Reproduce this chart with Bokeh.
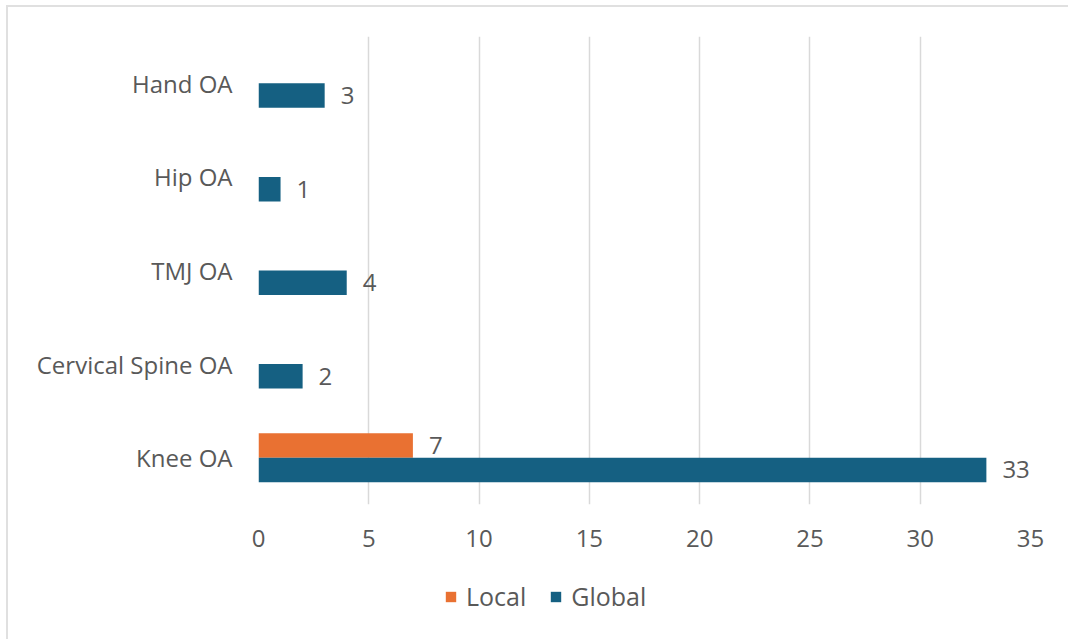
from bokeh.plotting import figure
from bokeh.layouts import column
from bokeh.models import ColumnDataSource, FactorRange, Range1d, Legend, LegendItem, FixedTicker
from bokeh.core.properties import value
from bokeh.transform import dodge
from bokeh.embed import file_html
from bokeh.resources import INLINE

categories = ["Knee OA", "Cervical Spine OA", "TMJ OA", "Hip OA", "Hand OA"]
local_vals = [7, 0, 0, 0, 0]
global_vals = [33, 2, 4, 1, 3]
x_ticks = [0, 5, 10, 15, 20, 25, 30, 35]
series_names = ["Local", "Global"]

FONT = "Open Sans"
FS = "24px"
TXT = "#595959"
C_LOCAL = "#E97132"
C_GLOBAL = "#156082"

src = ColumnDataSource(dict(cat=categories, local=local_vals, glob=global_vals,
                            local_lbl=[str(v) if v else "" for v in local_vals],
                            glob_lbl=[str(v) if v else "" for v in global_vals]))

p = figure(width=1060, height=560, y_range=FactorRange(*categories, range_padding=0),
           x_range=Range1d(0, 35), output_backend="svg", toolbar_location=None,
           min_border_left=250, min_border_right=38, min_border_top=29, min_border_bottom=63)
p.outline_line_color = None
p.background_fill_color = "white"
p.border_fill_color = "white"

H = 0.262
p.hbar(y=dodge("cat", H / 2, range=p.y_range), right="local", left=0, height=H,
       source=src, fill_color=C_LOCAL, line_color=None)
p.hbar(y=dodge("cat", -H / 2, range=p.y_range), right="glob", left=0, height=H,
       source=src, fill_color=C_GLOBAL, line_color=None)

p.text(x="local", y=dodge("cat", H / 2, range=p.y_range), text="local_lbl", source=src,
       x_offset=16, text_align="left", text_baseline="middle", text_font=value(FONT),
       text_font_size=FS, text_color=TXT)
p.text(x="glob", y=dodge("cat", -H / 2, range=p.y_range), text="glob_lbl", source=src,
       x_offset=16, text_align="left", text_baseline="middle", text_font=value(FONT),
       text_font_size=FS, text_color=TXT)

p.ygrid.grid_line_color = None
p.xgrid.grid_line_color = "#D9D9D9"
p.xgrid.grid_line_width = 1.5
p.xaxis.ticker = FixedTicker(ticks=x_ticks)
for ax in (p.xaxis, p.yaxis):
    ax.axis_line_color = None
    ax.major_tick_line_color = None
    ax.minor_tick_line_color = None
    ax.major_label_text_font = FONT
    ax.major_label_text_font_size = FS
    ax.major_label_text_color = TXT
p.yaxis.major_label_standoff = 20
p.xaxis.major_label_standoff = 19

# legend strip below the chart (its frame is aligned with the main frame by the column)
leg = figure(width=1060, height=72, x_range=Range1d(0, 1), y_range=Range1d(0, 1),
             x_axis_type=None, y_axis_type=None,
             output_backend="svg", toolbar_location=None,
             min_border_left=0, min_border_right=0, min_border_top=0, min_border_bottom=0)
leg.xgrid.grid_line_color = None
leg.ygrid.grid_line_color = None
leg.outline_line_color = None
# swatch-only renderers of zero size, placed outside the visible range
rl = leg.hbar(y=[-5], right=[-5], left=[-5], height=0, fill_color=C_LOCAL, line_color=None)
rg = leg.hbar(y=[-5], right=[-5], left=[-5], height=0, fill_color=C_GLOBAL, line_color=None)
legend = Legend(items=[LegendItem(label=series_names[0], renderers=[rl]),
                       LegendItem(label=series_names[1], renderers=[rg])],
                location=(186, 26), orientation="horizontal",
                glyph_width=13, glyph_height=13, label_standoff=9, spacing=23,
                padding=0, margin=0, border_line_color=None, background_fill_alpha=0,
                label_text_font=FONT, label_text_font_size="25px", label_text_color=TXT,
                label_height=22)
leg.add_layout(legend, "center")

col = column(p, leg, spacing=0)
col.margin = (5, 0, 0, 6)
col.styles = {"border-left": "2px solid #E0E0E0", "border-top": "2px solid #E0E0E0"}

open("out.html", "w").write(file_html(col, INLINE))
